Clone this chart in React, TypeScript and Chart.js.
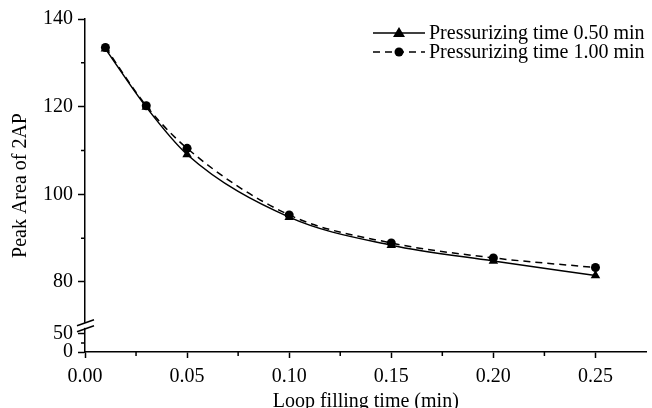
import React, { useEffect, useRef } from "react";
import { Chart, registerables } from "chart.js";

Chart.register(...registerables);

// Data
const loopTimes = [0.01, 0.03, 0.05, 0.10, 0.15, 0.20, 0.25];
const press050 = [133.2, 119.9, 109.1, 94.8, 88.4, 84.8, 81.5];
const press100 = [133.5, 120.2, 110.5, 95.3, 88.9, 85.5, 83.3];
const seriesLabels = ["Pressurizing time 0.50 min", "Pressurizing time 1.00 min"];

// X ticks
const xMajorTicks = [0, 0.05, 0.1, 0.15, 0.2, 0.25];
const xMinorTicks = [0.025, 0.075, 0.125, 0.175, 0.225];

// Broken Y axis: real values below the break are compressed into axis units
const yAxisMin = 64.03;
const yAxisMax = 140;
const yLowTickLabels = ["0", "50"];
const yLowTickPos = [64.03, 68.14];
const yHighTicks = [80, 100, 120, 140];
const yMinorTicks = [66.08, 90, 110, 130];
const yBreakPos = 70.0;

const FONT = "'Liberation Serif', 'Times New Roman', serif";
const FS = 20;

const overlayPlugin = {
  id: "overlay",
  afterDraw(chart: any) {
    const ctx = chart.ctx;
    const xs = chart.scales.x;
    const ys = chart.scales.y;
    const area = chart.chartArea;
    ctx.save();
    ctx.strokeStyle = "#000";
    ctx.lineWidth = 1.5;
    // minor ticks
    ctx.beginPath();
    xMinorTicks.forEach((v) => {
      const px = xs.getPixelForValue(v);
      ctx.moveTo(px, area.bottom);
      ctx.lineTo(px, area.bottom + 4);
    });
    yMinorTicks.forEach((v) => {
      const py = ys.getPixelForValue(v);
      ctx.moveTo(area.left, py);
      ctx.lineTo(area.left - 4, py);
    });
    ctx.stroke();

    // axis break
    const by = ys.getPixelForValue(yBreakPos);
    ctx.fillStyle = "#fff";
    ctx.fillRect(area.left - 3, by - 3, 6, 5);
    ctx.beginPath();
    ctx.lineWidth = 1.5;
    ctx.moveTo(area.left - 8, by - 0);
    ctx.lineTo(area.left + 9, by - 6);
    ctx.moveTo(area.left - 8, by + 6);
    ctx.lineTo(area.left + 9, by + 0);
    ctx.stroke();

    // legend
    const lx0 = 373;
    const lx1 = 425;
    const rows = [33, 52];
    ctx.font = `${FS}px ${FONT}`;
    ctx.fillStyle = "#000";
    ctx.textBaseline = "middle";
    ctx.textAlign = "left";
    rows.forEach((ry, i) => {
      ctx.beginPath();
      ctx.lineWidth = 1.5;
      ctx.setLineDash(i === 0 ? [] : [7, 5]);
      ctx.moveTo(lx0, ry);
      ctx.lineTo(lx1, ry);
      ctx.stroke();
      ctx.setLineDash([]);
      const mx = (lx0 + lx1) / 2;
      ctx.beginPath();
      if (i === 0) {
        ctx.moveTo(mx, ry - 6);
        ctx.lineTo(mx + 6, ry + 4);
        ctx.lineTo(mx - 6, ry + 4);
        ctx.closePath();
      } else {
        ctx.arc(mx, ry, 4.5, 0, Math.PI * 2);
      }
      ctx.fill();
      ctx.fillText(seriesLabels[i], 429, ry + 1);
    });
    ctx.restore();
  },
};

export default function App() {
  const canvasRef = useRef<HTMLCanvasElement | null>(null);

  useEffect(() => {
    if (!canvasRef.current) return;
    const chart = new Chart(canvasRef.current, {
      type: "line",
      data: {
        datasets: [
          {
            label: seriesLabels[0],
            data: loopTimes.map((x, i) => ({ x, y: press050[i] })),
            borderColor: "#000",
            backgroundColor: "#000",
            borderWidth: 1.5,
            pointStyle: "triangle",
            pointRadius: 5.5,
            pointBorderWidth: 0,
            cubicInterpolationMode: "monotone",
          },
          {
            label: seriesLabels[1],
            data: loopTimes.map((x, i) => ({ x, y: press100[i] })),
            borderColor: "#000",
            backgroundColor: "#000",
            borderWidth: 1.5,
            borderDash: [7, 5],
            pointStyle: "circle",
            pointRadius: 4.5,
            pointBorderWidth: 0,
            cubicInterpolationMode: "monotone",
          },
        ],
      },
      options: {
        animation: false,
        responsive: false,
        maintainAspectRatio: false,
        layout: { padding: { top: 19, right: 0, left: 0, bottom: 0 } },
        plugins: { legend: { display: false }, tooltip: { enabled: false } },
        scales: {
          x: {
            type: "linear",
            min: 0,
            max: 0.275,
            afterBuildTicks: (s: any) => {
              s.ticks = xMajorTicks.map((v) => ({ value: v }));
            },
            afterFit: (s: any) => {
              s.height = 56;
            },
            grid: { drawOnChartArea: false, color: "#000", tickLength: 6, tickWidth: 1.5 },
            border: { color: "#000", width: 1.5 },
            ticks: {
              color: "#000",
              font: { family: FONT, size: FS },
              padding: 7,
              maxRotation: 0,
              callback: (v: any) => Number(v).toFixed(2),
            },
            title: {
              display: true,
              text: "Loop filling time (min)",
              color: "#000",
              font: { family: FONT, size: FS },
              padding: { top: 0, bottom: -6 },
            },
          },
          y: {
            type: "linear",
            min: yAxisMin,
            max: yAxisMax,
            afterBuildTicks: (s: any) => {
              s.ticks = [...yLowTickPos, ...yHighTicks].map((v) => ({ value: v }));
            },
            afterFit: (s: any) => {
              s.width = 85;
            },
            grid: { drawOnChartArea: false, color: "#000", tickLength: 7, tickWidth: 1.5 },
            border: { color: "#000", width: 1.5 },
            ticks: {
              color: "#000",
              font: { family: FONT, size: FS },
              padding: 5,
              callback: (v: any) => {
                const idx = yLowTickPos.indexOf(Number(v));
                if (idx >= 0) return yLowTickLabels[idx];
                return String(v);
              },
            },
            title: {
              display: true,
              text: "Peak Area of 2AP",
              color: "#000",
              font: { family: FONT, size: FS },
              padding: { top: 9, bottom: 0 },
            },
          },
        },
      },
      plugins: [overlayPlugin],
    } as any);
    return () => chart.destroy();
  }, []);

  return (
    <div style={{ position: "fixed", left: 0, top: 0, width: 652, height: 408, background: "#fff" }}>
      <canvas ref={canvasRef} width={652} height={408} style={{ width: 652, height: 408 }} />
    </div>
  );
}
